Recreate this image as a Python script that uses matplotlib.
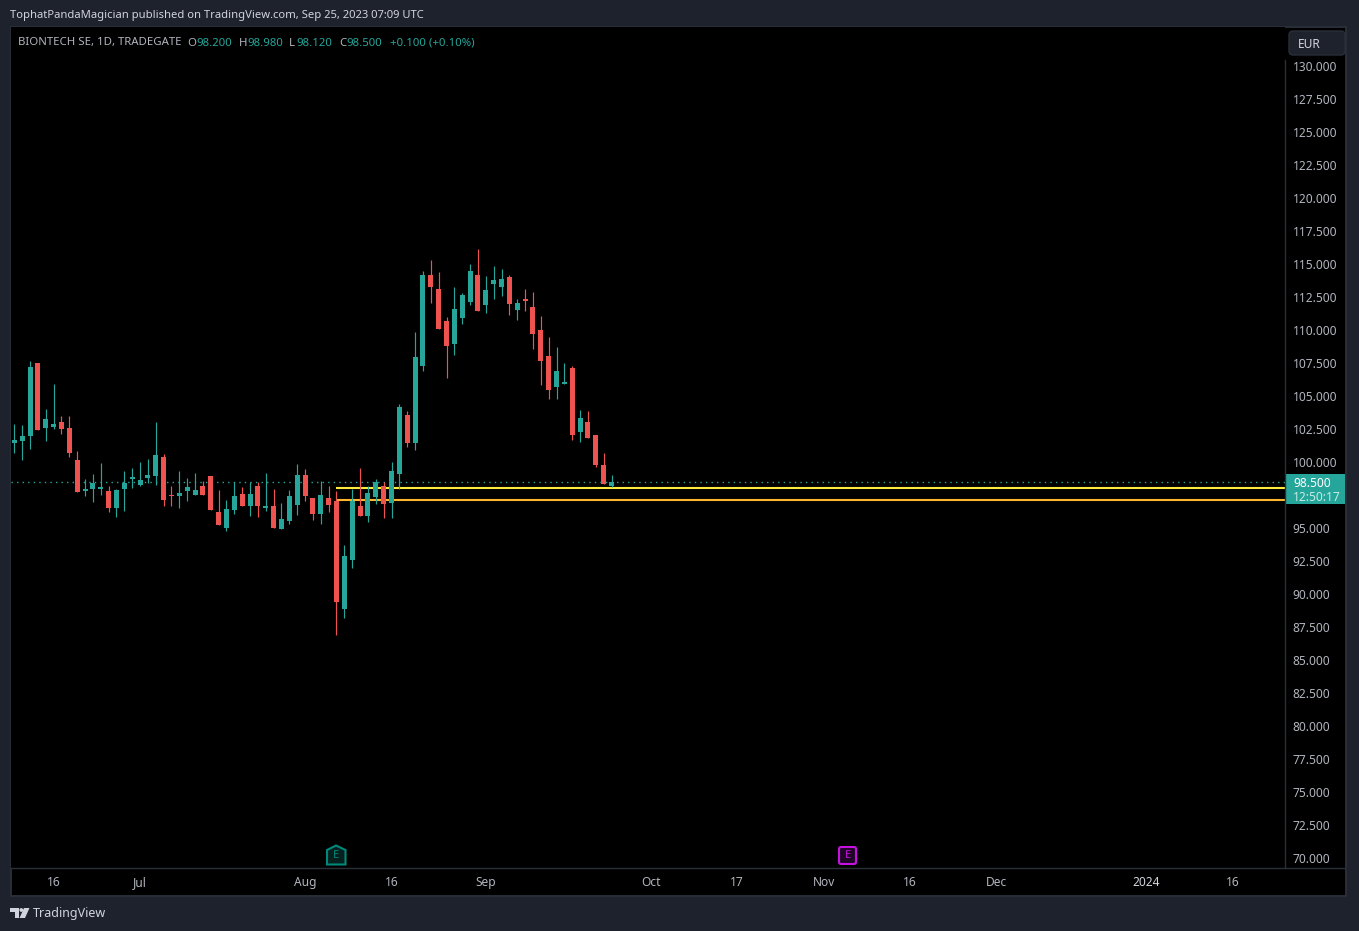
import matplotlib
matplotlib.use("Agg")
import matplotlib.pyplot as plt
from matplotlib.patches import Rectangle, FancyBboxPatch, Polygon

# daily candles
opens = [101.42, 101.57, 101.95, 107.48, 102.55, 102.63, 103.01, 102.55, 100.13, 97.78,
         97.93, 97.93, 97.78, 96.50, 97.93, 98.69, 98.24, 98.77, 98.92, 100.36,
         97.48, 97.40, 97.78, 97.48, 98.16, 98.93, 96.20, 94.99, 96.35, 97.56,
         96.65, 98.17, 96.50, 96.65, 94.91, 95.52, 96.73, 99.00, 97.26, 96.05,
         97.26, 97.03, 88.85, 92.56, 96.65, 95.90, 97.34, 98.17, 96.88, 99.08,
         103.54, 101.42, 107.25, 114.14, 113.08, 110.66, 108.92, 110.88, 112.10, 114.14,
         111.87, 113.46, 113.23, 113.99, 111.49, 112.32, 111.72, 109.98, 108.01, 105.66,
         105.89, 107.10, 102.25, 103.01, 102.02, 99.75, 98.20]
highs = [102.86, 102.78, 107.63, 107.48, 103.99, 105.89, 103.46, 103.46, 100.81, 98.69,
         99.07, 99.90, 98.16, 97.93, 99.30, 99.53, 99.98, 100.21, 103.01, 100.59,
         98.16, 99.30, 98.77, 99.15, 98.54, 98.93, 97.87, 97.11, 98.47, 98.09,
         98.47, 98.47, 99.15, 97.94, 96.88, 97.87, 99.83, 99.46, 97.26, 98.55,
         98.17, 97.79, 93.70, 97.94, 99.53, 98.17, 98.70, 98.47, 99.99, 104.38,
         103.85, 109.82, 114.44, 115.28, 114.37, 110.96, 113.23, 112.78, 114.97, 116.11,
         114.06, 114.82, 114.59, 114.14, 112.32, 113.08, 112.85, 111.04, 109.45, 108.69,
         107.48, 107.25, 103.92, 103.84, 102.02, 100.66, 98.98]
lows = [100.66, 100.13, 100.96, 102.40, 101.57, 102.48, 102.10, 100.36, 97.71, 97.40,
        96.95, 97.48, 96.19, 95.81, 96.27, 98.01, 98.16, 98.39, 98.24, 96.65,
        96.65, 96.50, 97.03, 97.48, 97.48, 96.35, 95.21, 94.76, 96.05, 96.65,
        95.90, 95.82, 96.28, 94.99, 94.91, 95.29, 95.97, 97.03, 95.59, 95.29,
        96.20, 86.89, 88.17, 91.96, 95.90, 95.44, 96.81, 95.75, 95.75, 97.94,
        101.12, 100.89, 106.87, 112.02, 110.05, 106.34, 108.08, 110.43, 111.87, 111.41,
        111.26, 112.32, 112.55, 111.11, 110.73, 111.41, 108.54, 105.81, 104.75, 104.75,
        105.89, 101.65, 101.49, 101.80, 99.60, 98.31, 98.12]
closes = [101.65, 101.95, 107.17, 102.40, 103.24, 102.86, 102.48, 100.66, 97.71, 97.93,
          98.39, 98.09, 96.50, 97.86, 98.39, 98.84, 98.62, 98.99, 100.51, 97.10,
          97.40, 97.63, 98.09, 97.86, 97.48, 96.35, 95.21, 96.43, 97.41, 96.65,
          97.56, 96.65, 96.65, 94.99, 95.67, 97.41, 99.00, 97.41, 96.05, 97.49,
          96.73, 89.38, 92.87, 97.03, 95.90, 97.64, 98.47, 96.81, 99.30, 104.15,
          101.42, 107.93, 114.14, 113.23, 110.05, 108.76, 111.57, 112.63, 114.44, 111.41,
          113.00, 113.76, 113.84, 111.94, 112.02, 112.17, 109.67, 107.63, 105.43, 106.87,
          106.04, 102.02, 103.31, 101.80, 99.75, 98.31, 98.50]

last_price = 98.5
yellow_level = 98.04
orange_level = 97.14
level_start = 40.9

price_ticks = [70, 72.5, 75, 77.5, 80, 82.5, 85, 87.5, 90, 92.5, 95, 100, 102.5, 105, 107.5,
               110, 112.5, 115, 117.5, 120, 122.5, 125, 127.5, 130]
time_ticks = [5, 16, 37, 48, 60, 81, 92, 103, 114, 125, 144, 155]
time_labels = ["16", "Jul", "Aug", "16", "Sep", "Oct", "17", "Nov", "16", "Dec", "2024", "16"]

UP = "#26a69a"
DOWN = "#ef5350"
BG = "#1e222d"
EDGE = "#2a2e39"
TXT = "#b2b5be"
W, H = 1359, 931

plt.rcParams["font.family"] = "Noto Sans"

fig = plt.figure(figsize=(W / 100, H / 100), dpi=100, facecolor=BG)


def px_axes(z):
    # full figure axes measured in pixels, for the page furniture
    a = fig.add_axes([0, 0, 1, 1], zorder=z)
    a.set_xlim(0, W)
    a.set_ylim(H, 0)
    a.axis("off")
    a.patch.set_alpha(0)
    return a


back = px_axes(0)
back.add_patch(Rectangle((10.5, 27), 1335, 868.5, facecolor="black", edgecolor=EDGE, linewidth=1.4))

# main chart
ax = fig.add_axes([11 / W, 1 - 868 / H, 1274 / W, 841 / H], zorder=1)
ax.set_facecolor("black")
ax.set_xlim(-0.42, 161.7)
ax.set_ylim(69.243, 132.92)
for s in ax.spines.values():
    s.set_visible(False)

xs = list(range(len(opens)))
colors = [UP if c >= o else DOWN for o, c in zip(opens, closes)]

ax.axhline(last_price, color=UP, linewidth=1, linestyle=(0, (1, 3)), zorder=1)
ax.hlines(yellow_level, level_start, 161.7, color="#ffeb3b", linewidth=1.5, zorder=2)
ax.hlines(orange_level, level_start, 161.7, color="#ffb52e", linewidth=1.5, zorder=2)
ax.vlines(xs, lows, highs, colors=colors, linewidth=0.85, zorder=3)
ax.bar(xs, [abs(c - o) for o, c in zip(opens, closes)], bottom=[min(o, c) for o, c in zip(opens, closes)],
       width=0.64, color=colors, linewidth=0, zorder=4)

ax.yaxis.tick_right()
ax.set_yticks(price_ticks)
ax.set_yticklabels([f"{p:.3f}" for p in price_ticks])
ax.tick_params(axis="y", length=0, pad=5.5, labelsize=8.6, labelcolor=TXT)
ax.set_xticks(time_ticks)
ax.set_xticklabels(time_labels)
ax.tick_params(axis="x", length=0, pad=5.5, labelsize=8.6, labelcolor=TXT)
ax.get_xticklabels()[10].set_fontweight("bold")
ax.get_xticklabels()[10].set_color("#d1d4dc")

# everything on top of the chart
top = px_axes(2)
top.plot([1285, 1285], [60, 868], color=EDGE, linewidth=1)
top.plot([11, 1345], [868, 868], color=EDGE, linewidth=1)

top.text(10, 15.5, "TophatPandaMagician published on TradingView.com, Sep 25, 2023 07:09 UTC",
         color="#d1d4dc", fontsize=8.08, va="center")

top.text(18, 43, "BIONTECH SE, 1D, TRADEGATE", color=TXT, fontsize=8.2, va="center")
for lx, letter, vx, val in [(187, "O", 196, "98.200"), (239, "H", 247, "98.980"),
                            (289, "L", 296, "98.120"), (339, "C", 346, "98.500")]:
    top.text(lx, 43, letter, color=TXT, fontsize=8.2, va="center")
    top.text(vx, 43, val, color=UP, fontsize=8.2, va="center")
top.text(390, 43, "+0.100 (+0.10%)", color=UP, fontsize=8.2, va="center")

# currency button
top.add_patch(FancyBboxPatch((1291, 33), 52, 20, boxstyle="round,pad=2,rounding_size=4",
                             facecolor=BG, edgecolor=EDGE, linewidth=1))
top.text(1298, 44, "EUR", color="#d1d4dc", fontsize=8.6, va="center")

# last price tag
top.add_patch(Rectangle((1285, 474), 60, 30, facecolor=UP, edgecolor="none"))
top.text(1293, 483.5, "98.500", color="white", fontsize=8.6, fontweight="bold", va="center")
top.text(1293, 497.5, "12:50:17", color="#c5ece5", fontsize=8.6, va="center")

# earnings markers
top.add_patch(Polygon([(327, 850), (336, 845.5), (345.5, 850), (345.5, 864.5), (327, 864.5)],
                      facecolor="#06201d", edgecolor="#00897b", linewidth=1.5))
top.text(336.3, 855.5, "E", color="#00897b", fontsize=8, ha="center", va="center")
top.add_patch(FancyBboxPatch((840, 848), 15, 15, boxstyle="round,pad=1,rounding_size=2",
                             facecolor="#1f0626", edgecolor="#c711e0", linewidth=1.5))
top.text(847.5, 855.5, "E", color="#c711e0", fontsize=8, ha="center", va="center")

# footer logo
logo = "#d1d4dc"
top.add_patch(Polygon([(10, 908), (19, 908), (19, 918), (15, 918), (15, 912), (10, 912)], facecolor=logo, edgecolor="none"))
top.add_patch(Polygon([(24, 908), (29.5, 908), (25, 918), (19.5, 918)], facecolor=logo, edgecolor="none"))
top.add_patch(plt.Circle((21.3, 910), 1.9, facecolor=logo, edgecolor="none"))
top.text(33, 913.5, "TradingView", color="#d1d4dc", fontsize=9.0, va="center")

fig.savefig("out.png", dpi=100, facecolor=BG)
